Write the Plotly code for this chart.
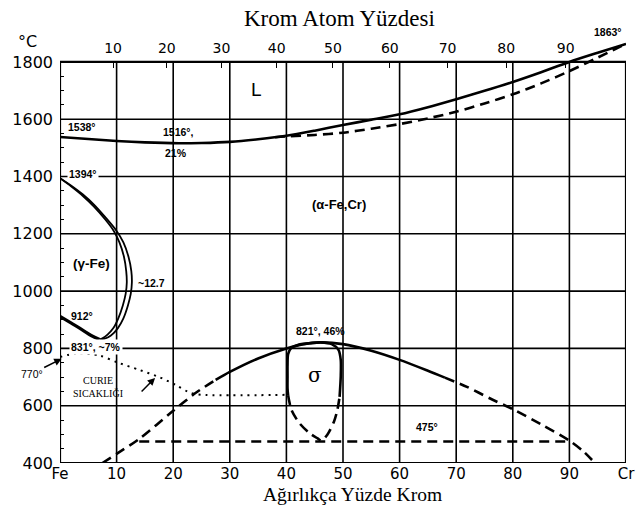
import plotly.graph_objects as go

# ---- Fe-Cr phase boundaries: weight % Cr vs temperature (°C) ----
liquidus_cr = [0, 5, 10, 15, 21, 25, 30, 35, 40, 45, 50, 55, 60, 65, 70, 75, 80, 85, 90, 95, 100]
liquidus_t = [1538, 1531, 1524, 1519, 1516, 1517, 1521, 1530, 1542, 1560, 1580, 1598, 1617, 1642,
              1670, 1699, 1730, 1764, 1800, 1832, 1863]

solidus_cr = [38, 40, 45, 50, 55, 60, 65, 70, 75, 80, 85, 90, 95, 100]
solidus_t = [1537, 1540, 1545, 1553, 1567, 1583, 1603, 1626, 1655, 1687, 1725, 1768, 1815, 1863]

# gamma loop: (alpha+gamma)/alpha and gamma/(alpha+gamma) boundaries
gamma_outer_cr = [0, 2, 4, 6, 8, 10, 11.2, 12.1, 12.6, 12.7, 12.5, 12.0, 11.2, 10.2, 9.0, 7.8, 7]
gamma_outer_t = [1394, 1368, 1338, 1302, 1258, 1210, 1170, 1120, 1070, 1030, 990, 950, 905, 870,
                 845, 833, 831]
gamma_inner_cr = [0, 2, 4, 6, 8, 9.5, 10.5, 11.3, 11.7, 11.8, 11.6, 11.1, 10.3, 9.4, 8.4, 7.5, 7]
gamma_inner_t = [1394, 1365, 1333, 1295, 1250, 1210, 1170, 1120, 1070, 1030, 990, 950, 905, 870,
                 848, 835, 831]
gamma_low_cr = [0, 2, 4, 5.5, 7]
gamma_low_t = [912, 888, 864, 845, 831]

# alpha / (alpha + sigma) dome
dome_left_cr = [7.5, 10, 14, 20, 24, 27.5]
dome_left_t = [400, 432, 484, 582, 645, 690]
dome_top_cr = [27.5, 30, 35, 40, 43, 46, 50, 55, 60, 65, 68]
dome_top_t = [690, 718, 765, 800, 815, 821, 815, 792, 760, 722, 698]
dome_right_cr = [68, 72, 76, 80, 85, 90, 92.5, 94.5]
dome_right_t = [698, 665, 625, 588, 535, 478, 440, 400]

# sigma single-phase field
sigma_left_cr = [46, 44, 42, 40.8, 40.3, 40.2, 40.2, 40.2, 40.3]
sigma_left_t = [821, 818, 812, 800, 780, 740, 700, 660, 637]
sigma_low_cr = [40.3, 40.9, 42.3, 44.1, 45.5, 46.2, 47.2, 48.4, 49.0, 49.4]
sigma_low_t = [637, 585, 539, 504, 486, 478, 498, 544, 585, 631]
sigma_right_cr = [49.4, 49.6, 49.6, 49.2, 48, 46]
sigma_right_t = [631, 701, 760, 795, 815, 821]

# 475 °C embrittlement line
line475_cr = [14, 90]
line475_t = [475, 475]

# Curie temperature
curie_cr = [0, 3, 7, 10, 14, 17.5, 20.5, 23, 25, 40]
curie_t = [770, 783, 775, 752, 725, 700, 672, 645, 638, 638]

# ---- axis ticks ----
wt_ticks = [0, 10, 20, 30, 40, 50, 60, 70, 80, 90, 100]
wt_labels = ["Fe", "10", "20", "30", "40", "50", "60", "70", "80", "90", "Cr"]
t_ticks = [400, 600, 800, 1000, 1200, 1400, 1600, 1800]
t_labels = ["400", "600", "800", "1000", "1200", "1400", "1600", "1800"]
at_ticks = [10, 20, 30, 40, 50, 60, 70, 80, 90]
M_CR, M_FE = 51.996, 55.845
at_in_wt = [a * M_CR / (a * M_CR + (100 - a) * M_FE) * 100 for a in at_ticks]

T_MIN, T_MAX, T_TOP = 400, 1800, 1880

fig = go.Figure()

SOLID = dict(color="black", width=2.6, shape="spline", smoothing=0.8)
DASH = dict(color="black", width=2.6, dash="10px,6px", shape="spline", smoothing=0.8)
THIN = dict(color="black", width=1.8, shape="spline", smoothing=0.8)


def add(x, y, line, **kw):
    fig.add_trace(go.Scatter(x=x, y=y, mode="lines", line=line, showlegend=False,
                             hoverinfo="skip", **kw))


add(liquidus_cr, liquidus_t, SOLID)
add(solidus_cr, solidus_t, DASH)
add(gamma_outer_cr, gamma_outer_t, THIN)
add(gamma_inner_cr, gamma_inner_t, THIN)
add(gamma_low_cr, gamma_low_t, dict(color="black", width=3.2, shape="spline"))
add(dome_left_cr, dome_left_t, DASH)
add(dome_top_cr, dome_top_t, SOLID)
add(dome_right_cr, dome_right_t, DASH)
add(sigma_left_cr, sigma_left_t, SOLID)
add(sigma_low_cr, sigma_low_t, DASH)
add(sigma_right_cr, sigma_right_t, SOLID)
add(line475_cr, line475_t, dict(color="black", width=2.4, dash="10px,6px"))
add(curie_cr, curie_t, dict(color="black", width=2, dash="2px,5px", shape="spline", smoothing=0.8))
# top (atom %) axis host
fig.add_trace(go.Scatter(x=[], y=[], xaxis="x2", showlegend=False, hoverinfo="skip"))

# frame and grid
shapes = [dict(type="rect", xref="x", yref="y", x0=0, x1=100, y0=T_MIN, y1=T_MAX,
               line=dict(color="black", width=2.2), layer="below")]
for v in wt_ticks[1:-1]:
    shapes.append(dict(type="line", xref="x", yref="y", x0=v, x1=v, y0=T_MIN, y1=T_MAX,
                       line=dict(color="black", width=1.6), layer="below"))
for t in t_ticks[1:-1]:
    shapes.append(dict(type="line", xref="x", yref="y", x0=0, x1=100, y0=t, y1=t,
                       line=dict(color="black", width=1.6), layer="below"))

SMALL = dict(family="Liberation Sans", size=10.5, color="black", weight="bold")


def note(text, x, y, font=SMALL, **kw):
    return dict(text=text, x=x, y=y, xref=kw.pop("xref", "x"), yref=kw.pop("yref", "y"),
                xanchor="center", yanchor=kw.pop("yanchor", "middle"), showarrow=False,
                font=font, **kw)


annotations = [
    note("Krom Atom Yüzdesi", 49.3, 1.0495, yref="paper",
         font=dict(family="Liberation Serif", size=23, color="black")),
    note("Ağırlıkça Yüzde Krom", 51.7, -0.1005, yref="paper", yanchor="bottom", borderpad=0,
         font=dict(family="Liberation Serif", size=19.5, color="black")),
    note("°C", -0.057, 0.995, xref="paper", yref="paper",
         font=dict(family="DejaVu Sans", size=16, color="black")),
    note("1863°", 96.9, 1.0165, yref="paper"),
    note("1538°", 3.9, 1573),
    note("1516°,", 21, 1554),
    note("21%", 20.5, 1483),
    note("L", 34.7, 1702, font=dict(family="Liberation Sans", size=19, color="black")),
    note("(α-Fe,Cr)", 49.3, 1304, font=dict(family="Liberation Sans", size=13, color="black", weight="bold")),
    note("1394°", 4.0, 1409, bgcolor="white"),
    note("(γ-Fe)", 5.5, 1097, font=dict(family="Liberation Sans", size=13.5, color="black", weight="bold")),
    note("~12.7", 16.2, 1029),
    note("912°", 3.8, 914),
    note("831°, ~7%", 6.4, 806, bgcolor="white"),
    note("821°, 46%", 46.1, 862),
    note("σ", 45.1, 707, font=dict(family="DejaVu Serif", size=20, color="black")),
    note("475°", 64.9, 527),
    note("CURIE<br>SICAKLIĞI", 6.8, 666,
         font=dict(family="Liberation Serif", size=10, color="black")),
    dict(text="770°", x=0.3, y=764, xref="x", yref="y", showarrow=True, ax=-30, ay=15,
         arrowhead=2, arrowsize=1, arrowwidth=1.5, arrowcolor="black", standoff=0,
         font=dict(family="Liberation Sans", size=10.5, color="black")),
    dict(text="", x=16.8, y=697, xref="x", yref="y", showarrow=True, ax=-15, ay=15,
         arrowhead=2, arrowsize=1, arrowwidth=1.5, arrowcolor="black", standoff=0),
]

fig.update_layout(
    width=637, height=506,
    margin=dict(l=60, r=2, t=39, b=43),
    paper_bgcolor="white", plot_bgcolor="white",
    shapes=shapes, annotations=annotations,
    xaxis=dict(range=[0, 100], tickmode="array", tickvals=wt_ticks, ticktext=wt_labels,
               ticks="", showgrid=False, zeroline=False, showline=False,
               ticklabelstandoff=0, ticklabeloverflow="allow",
               tickfont=dict(family="DejaVu Sans", size=15, color="black")),
    xaxis2=dict(range=[0, 100], overlaying="x", side="top", anchor="free",
                position=(T_MAX - T_MIN) / (T_TOP - T_MIN),
                tickmode="array", tickvals=at_in_wt, ticktext=[str(a) for a in at_ticks],
                ticks="inside", ticklen=5, tickwidth=1.2, tickcolor="black",
                showgrid=False, zeroline=False, showline=False, ticklabelstandoff=6,
                tickfont=dict(family="DejaVu Sans", size=14, color="black")),
    yaxis=dict(range=[T_MIN, T_TOP], tickmode="array", tickvals=t_ticks, ticktext=t_labels,
               ticks="", showgrid=False, zeroline=False, showline=False,
               ticklabelstandoff=6,
               tickfont=dict(family="DejaVu Sans", size=16, color="black"),
               minor=dict(tickmode="array",
                          tickvals=[t for t in range(450, 1800, 50) if t % 200],
                          ticks="inside", ticklen=4, tickwidth=1.2, tickcolor="black")),
)

fig.write_html("out.html")
